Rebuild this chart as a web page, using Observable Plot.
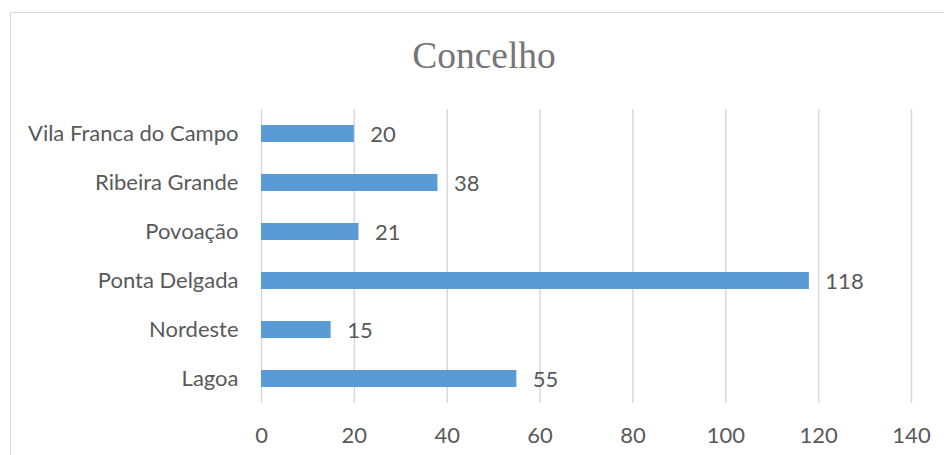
<!DOCTYPE html>
<html>
<head>
<meta charset="utf-8">
<script src="https://cdn.jsdelivr.net/npm/d3@7"></script>
<script src="https://cdn.jsdelivr.net/npm/@observablehq/plot@0.6"></script>
<style>
  html, body { margin: 0; padding: 0; background: #fff; }
  #wrap { position: relative; width: 944px; height: 455px; overflow: hidden; }
  #border { position: absolute; left: 10px; top: 12px; width: 960px; height: 470px; border: 1.5px solid #d9d9d9; box-sizing: border-box; }
  #title { position: absolute; left: 0; width: 968px; top: 34px; text-align: center; font-family: "Liberation Serif", serif; font-size: 37.5px; color: #767676; }
  #chart { position: absolute; left: 0; top: 0; }
</style>
</head>
<body>
<div id="wrap">
  <div id="border"></div>
  <div id="chart"></div>
  <div id="title">Concelho</div>
</div>
<script>
const categories = ["Vila Franca do Campo", "Ribeira Grande", "Povoação", "Ponta Delgada", "Nordeste", "Lagoa"];
const values = [20, 38, 21, 118, 15, 55];
const xTicks = [0, 20, 40, 60, 80, 100, 120, 140];

const data = categories.map((c, i) => ({concelho: c, value: values[i]}));

const chart = Plot.plot({
  width: 944,
  height: 455,
  marginLeft: 261,
  marginRight: 33,
  marginTop: 109,
  marginBottom: 52,
  style: {fontFamily: "Lato, sans-serif", fontSize: "22px", color: "#595959", background: "transparent"},
  x: {domain: [0, 140], ticks: xTicks, label: null},
  y: {domain: categories, label: null, paddingInner: 0.65, paddingOuter: 0.325},
  marks: [
    Plot.gridX(xTicks, {stroke: "#d9d9d9", strokeOpacity: 1, strokeWidth: 1.5}),
    Plot.barX(data, {x: "value", y: "concelho", fill: "#5b9bd5"}),
    Plot.text(data, {x: "value", y: "concelho", text: d => String(d.value), textAnchor: "start", dx: 16, dy: 1, fill: "#595959", fontSize: 22}),
    Plot.axisX(xTicks, {tickSize: 0, tickPadding: 24, fontSize: 22, fill: "#595959", label: null}),
    Plot.axisY({tickSize: 0, tickPadding: 23, fontSize: 22, fill: "#595959", label: null})
  ]
});
document.getElementById("chart").appendChild(chart);
</script>
</body>
</html>
